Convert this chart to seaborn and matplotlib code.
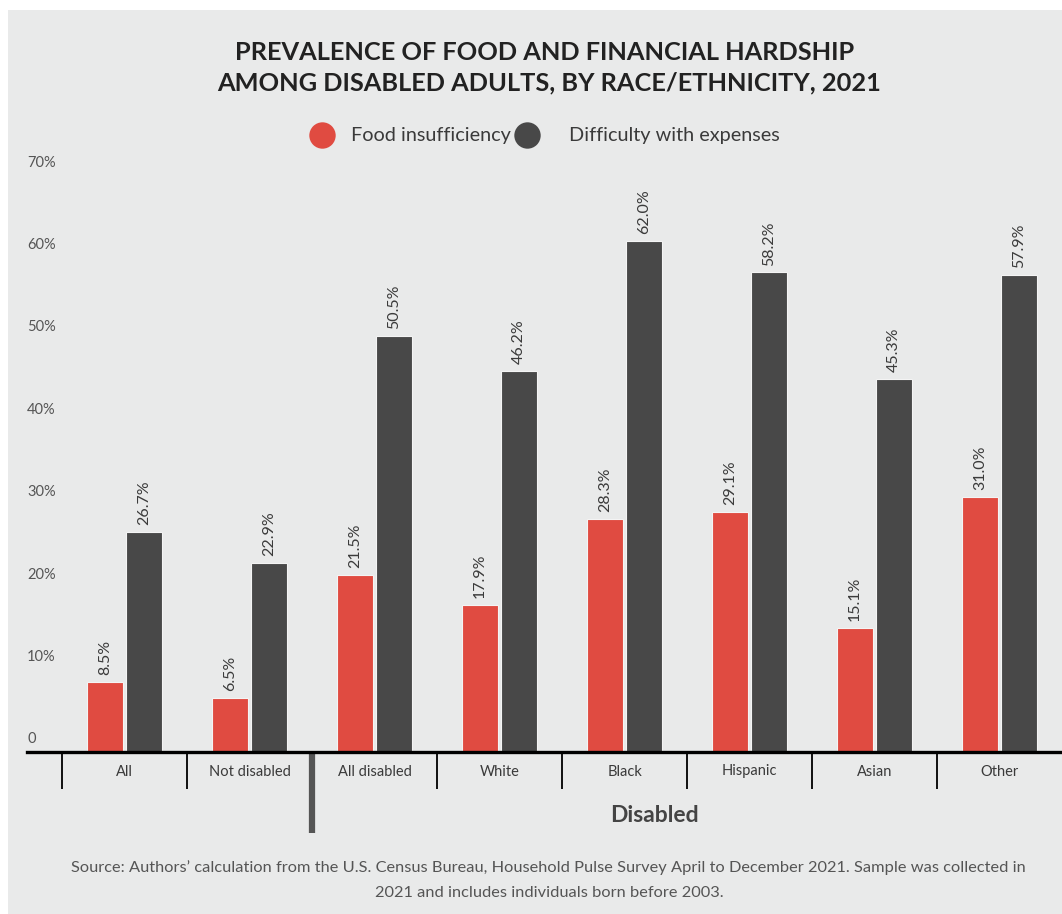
import matplotlib
matplotlib.use("Agg")
import matplotlib.pyplot as plt
from matplotlib.lines import Line2D
import seaborn as sns
import pandas as pd
import numpy as np

categories = ["All", "Not disabled", "All disabled", "White", "Black", "Hispanic", "Asian", "Other"]
food_insufficiency = [8.5, 6.5, 21.5, 17.9, 28.3, 29.1, 15.1, 31.0]
difficulty_expenses = [26.7, 22.9, 50.5, 46.2, 62.0, 58.2, 45.3, 57.9]
series_names = ["Food insufficiency", "Difficulty with expenses"]
y_ticks = [0, 10, 20, 30, 40, 50, 60, 70]
y_tick_labels = ["0", "10%", "20%", "30%", "40%", "50%", "60%", "70%"]

RED = "#E04B41"
DARK = "#484848"
BG = "#E9EAEA"
TXT = "#3a3a3a"

sns.set_theme(style="white")
plt.rcParams["font.family"] = ["Lato", "DejaVu Sans"]

df = pd.DataFrame({
    "category": categories * 2,
    "value": food_insufficiency + difficulty_expenses,
    "series": [series_names[0]] * len(categories) + [series_names[1]] * len(categories),
})

W, H = 1062, 914
fig = plt.figure(figsize=(W / 100, H / 100), dpi=100)
fig.patch.set_facecolor("white")
# grey panel
fig.patches.append(plt.Rectangle((8 / W, 0), 1, 1 - 10 / H, transform=fig.transFigure,
                                 facecolor=BG, edgecolor="none", zorder=-10))

ax = fig.add_axes([27 / W, (H - 752) / H, 1 - 27 / W, (752 - 167) / H])
ax.set_facecolor("none")

sns.barplot(data=df, x="category", y="value", hue="series", order=categories,
            hue_order=series_names, palette=[RED, DARK], width=0.62, gap=0.07,
            saturation=1, legend=False, ax=ax, linewidth=0.8, edgecolor="#f4f4f4")

ax.set_xlim(-0.78, 7.5)
ax.set_ylim(0, 71)
ax.set_xlabel("")
ax.set_ylabel("")
for s in ["top", "right", "left"]:
    ax.spines[s].set_visible(False)
ax.spines["bottom"].set_color("black")
ax.spines["bottom"].set_linewidth(2.4)
ax.set_yticks([])
ax.tick_params(axis="x", length=0, pad=9, labelsize=10.5, labelcolor=TXT)

# value labels
for cont, vals in zip(ax.containers, [food_insufficiency, difficulty_expenses]):
    ax.bar_label(cont, labels=[f"{v:.1f}%" for v in vals], rotation=90, padding=5,
                 fontsize=11.5, color=TXT)

# y tick labels sitting above their positions
for v, lbl in zip(y_ticks, y_tick_labels):
    ax.annotate(lbl, xy=(0, v), xycoords=("axes fraction", "data"), xytext=(0, 4),
                textcoords="offset points", ha="left", va="bottom", fontsize=10.5, color="#555555")

# category dividers
trans = ax.get_xaxis_transform()
for x in np.arange(-0.5, 7.0, 1.0):
    if abs(x - 1.5) < 1e-6:
        ax.plot([x, x], [0, -81 / 585], transform=trans, color="#555555", lw=4.5,
                clip_on=False, solid_capstyle="butt")
    else:
        ax.plot([x, x], [0, -37 / 585], transform=trans, color="black", lw=1.3,
                clip_on=False, solid_capstyle="butt")

ax.text(4.24, -63 / 585, "Disabled", transform=trans, ha="center", va="center",
        fontsize=16.5, fontweight="bold", color="#444444")

# title
fig.text(545 / W, 1 - 52 / H, "PREVALENCE OF FOOD AND FINANCIAL HARDSHIP", ha="center",
         va="center", fontsize=18.3, fontweight="bold", color="#222222")
fig.text(549 / W, 1 - 83 / H, "AMONG DISABLED ADULTS, BY RACE/ETHNICITY, 2021", ha="center",
         va="center", fontsize=18.3, fontweight="bold", color="#222222")

# legend (manual placement)
for cx, tx, c, name in [(322, 351, RED, series_names[0]), (527, 569, DARK, series_names[1])]:
    fig.add_artist(Line2D([cx / W], [1 - 135 / H], marker="o", linestyle="none", markersize=19,
                          markerfacecolor=c, markeredgecolor="none", transform=fig.transFigure))
    fig.text(tx / W, 1 - 135 / H, name, ha="left", va="center", fontsize=14.3, color=TXT)

# source
fig.text(548 / W, 1 - 868 / H,
         "Source: Authors\u2019 calculation from the U.S. Census Bureau, Household Pulse Survey April to December 2021. Sample was collected in",
         ha="center", va="center", fontsize=11.8, color="#555555")
fig.text(549 / W, 1 - 893 / H, "2021 and includes individuals born before 2003.",
         ha="center", va="center", fontsize=11.8, color="#555555")

fig.savefig("out.png", dpi=100, facecolor=fig.get_facecolor())
